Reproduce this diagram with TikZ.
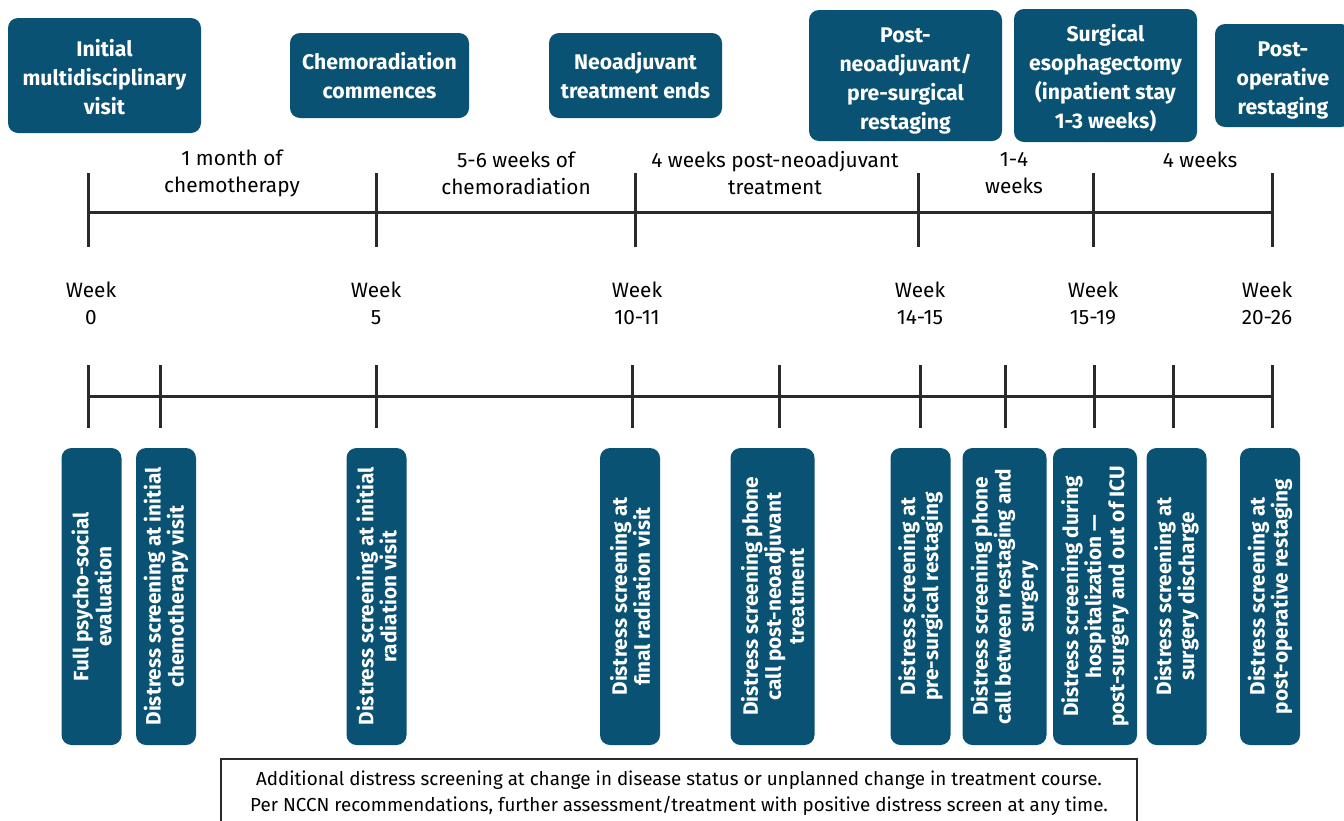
\documentclass[tikz,border=0pt]{standalone}
\usepackage{fontspec}
\setmainfont{Fira Sans}
\usetikzlibrary{positioning}
\definecolor{stepblue}{HTML}{0A5273}
\definecolor{axisgray}{HTML}{2B2A2A}
\newcommand{\toppad}[1]{\rule{0pt}{#1}}

\begin{document}
\begin{tikzpicture}[
    x=1pt, y=-1pt,
    topbox/.style={ fill=stepblue,
      rounded corners=10pt,
      text=white,
      align=center,
      inner sep=0pt,
      font=\bfseries\fontsize{21.2}{29}\selectfont},
    lowbox/.style={ fill=stepblue,
      rounded corners=10pt,
      text=white,
      align=center,
      inner sep=0pt,
      rotate=90,
      minimum width=297pt,
      font=\bfseries\fontsize{20.8}{23}\selectfont},
    span/.style={align=center, inner sep=0pt,
      font=\fontsize{20.8}{27}\selectfont},
    axis/.style={draw=axisgray, line width=3pt}]
    \useasboundingbox (0,0) rectangle (1344,820);

    % phases
    \node[topbox, minimum width=193pt, minimum height=115pt] (visit) at (104.5,75.5) {\toppad{20pt}Initial\\multidisciplinary\\visit};
    \node[topbox, minimum width=179pt, minimum height=85pt] (chemo) at (379.5,75.5) {Chemoradiation\\commences};
    \node[topbox, minimum width=173pt, minimum height=85pt] (neoend) at (635.5,75.5) {\toppad{18pt}Neoadjuvant\\treatment ends};
    \node[topbox, minimum width=193pt, minimum height=131pt] (restage) at (905.5,75.5) {\toppad{26pt}Post-\\neoadjuvant/\\pre-surgical\\restaging};
    \node[topbox, minimum width=183pt, minimum height=133pt] (surgery) at (1105.5,75.5) {\toppad{23pt}Surgical\\esophagectomy\\(inpatient stay\\1-3 weeks)};
    \node[topbox, minimum width=136pt, minimum height=103pt] (postop) at (1283,75.5) {\toppad{25pt}Post-\\operative\\restaging};

    % upper time line
    \coordinate (t0) at (88,212);
    \coordinate (t1) at (376,212);
    \coordinate (t2) at (635,212);
    \coordinate (t3) at (918,212);
    \coordinate (t4) at (1093,212);
    \coordinate (t5) at (1272,212);
    \draw[axis] (t0) -- (t5);
    \foreach \t in {t0,t1,t2,t3,t4,t5}
      \draw[axis] ([yshift=39pt]\t) -- ([yshift=-35pt]\t);

    \node[span] (len1) at (232,173.5) {1 month of\\chemotherapy};
    \node[span] (len2) at (516,173.5) {5-6 weeks of\\chemoradiation};
    \node[span] (len3) at (775,173.5) {4 weeks post-neoadjuvant\\treatment};
    \node[span] (len4) at (1014,173.5) {1-4\\weeks};
    \node[span] (len5) at (1200,160) {4 weeks};

    \node[span] (wk0) at (91,303.5) {Week\\0};
    \node[span] (wk5) at (376,303.5) {Week\\5};
    \node[span] (wk10) at (637,303.5) {Week\\10-11};
    \node[span] (wk14) at (920,303.5) {Week\\14-15};
    \node[span] (wk15) at (1093,303.5) {Week\\15-19};
    \node[span] (wk20) at (1267,303.5) {Week\\20-26};

    % lower time line
    \coordinate (b0) at (88,396);
    \coordinate (b1) at (160,396);
    \coordinate (b2) at (376.5,396);
    \coordinate (b3) at (632,396);
    \coordinate (b4) at (779,396);
    \coordinate (b5) at (920,396);
    \coordinate (b6) at (1005.5,396);
    \coordinate (b7) at (1094,396);
    \coordinate (b8) at (1173.5,396);
    \coordinate (b9) at (1272,396);
    \draw[axis] (b0) -- (b9);
    \foreach \b in {b0,b1,b2,b3,b4,b5,b6,b7,b8,b9}
      \draw[axis] ([yshift=31pt]\b) -- ([yshift=-32pt]\b);

    % screenings
    \node[lowbox, minimum height=60pt] (psych) at (91.5,596.5) {Full psycho-social\\evaluation};
    \node[lowbox, minimum height=60pt] (firstchemo) at (166,596.5) {Distress screening at initial\\chemotherapy visit};
    \node[lowbox, minimum height=60pt] (firstrad) at (376.5,596.5) {Distress screening at initial\\radiation visit};
    \node[lowbox, minimum height=60pt] (lastrad) at (630,596.5) {Distress screening at\\final radiation visit};
    \node[lowbox, minimum height=84pt] (call1) at (772.5,596.5) {Distress screening phone\\call post-neoadjuvant\\treatment};
    \node[lowbox, minimum height=60pt] (presurg) at (920.5,596.5) {Distress screening at\\pre-surgical restaging};
    \node[lowbox, minimum height=84pt] (call2) at (1004.5,596.5) {Distress screening phone\\call between restaging and\\surgery};
    \node[lowbox, minimum height=84pt] (hosp) at (1095,596.5) {Distress screening during\\hospitalization —\\post-surgery and out of ICU};
    \node[lowbox, minimum height=60pt] (discharge) at (1176.5,596.5) {Distress screening at\\surgery discharge};
    \node[lowbox, minimum height=60pt] (postrest) at (1270,596.5) {Distress screening at\\post-operative restaging};

    \node[draw=axisgray, line width=1.2pt, minimum width=916pt, minimum height=68pt,
      align=center, font=\fontsize{18.8}{26}\selectfont] (note) at (679,793)
      {Additional distress screening at change in disease status or unplanned change in treatment course.\\
       Per NCCN recommendations, further assessment/treatment with positive distress screen at any time.};
\end{tikzpicture}
\end{document}
